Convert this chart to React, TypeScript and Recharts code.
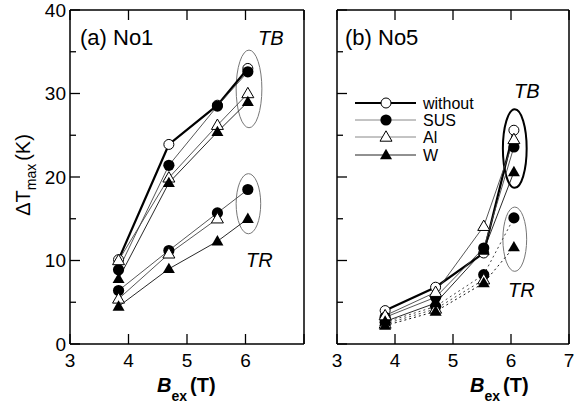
import React from 'react';
import { LineChart, Line, XAxis, YAxis, ReferenceArea } from 'recharts';

// measured field values (T)
const fieldA = [3.83, 4.69, 5.52, 6.04];
const fieldB = [3.83, 4.7, 5.53, 6.05];

// panel (a) No1, ΔTmax (K)
const aTbWithout = [10.1, 23.9, 28.6, 33.0];
const aTbSus = [8.9, 21.4, 28.5, 32.6];
const aTbAl = [10.0, 19.9, 26.2, 30.0];
const aTbW = [7.8, 19.3, 25.4, 29.0];
const aTrSus = [6.4, 11.2, 15.7, 18.5];
const aTrAl = [5.4, 10.8, 15.0, null];
const aTrW = [4.5, 9.0, 12.3, 15.0];

// panel (b) No5
const bTbWithout = [4.0, 6.8, 10.9, 25.6];
const bTbSus = [3.2, 5.6, 11.5, 23.6];
const bTbAl = [3.4, 6.2, 14.1, 24.5];
const bTbW = [2.7, 4.9, 11.2, 20.6];
const bTrSus = [2.6, 4.5, 8.3, 15.1];
const bTrAl = [2.4, 4.2, 7.7, null];
const bTrW = [2.2, 3.9, 7.3, 11.6];

const xTicks = [3, 4, 5, 6, 7];
const yTicks = [0, 5, 10, 15, 20, 25, 30, 35, 40];
const legendNames = ['without', 'SUS', 'Al', 'W'];

const FONT = 'Liberation Sans, Arial, Helvetica, sans-serif';

type Kind = 'oc' | 'fc' | 'ot' | 'ft';

const Marker = ({ cx, cy, kind }: { cx?: number; cy?: number; kind: Kind }) => {
  if (cx == null || cy == null || isNaN(cy)) return <g />;
  if (kind === 'oc') return <circle cx={cx} cy={cy} r={5} fill="#fff" stroke="#000" strokeWidth={1} />;
  if (kind === 'fc') return <circle cx={cx} cy={cy} r={5.6} fill="#000" />;
  const pts = `${cx},${cy - 6.2} ${cx + 6},${cy + 4.2} ${cx - 6},${cy + 4.2}`;
  if (kind === 'ot') return <polygon points={pts} fill="#fff" stroke="#000" strokeWidth={1} />;
  return <polygon points={pts} fill="#000" />;
};

const kinds: Kind[] = ['oc', 'fc', 'ot', 'ft'];
const strokes = ['#000', '#444', '#444', '#111'];
const widths = [2.2, 0.9, 0.9, 0.9];

const buildRows = (xs: number[], series: Record<string, (number | null)[]>) =>
  xs.map((b, i) => {
    const row: Record<string, number | null> = { b };
    Object.keys(series).forEach((k) => (row[k] = series[k][i]));
    return row;
  });

const rowsA = buildRows(fieldA, {
  tbWithout: aTbWithout, tbSus: aTbSus, tbAl: aTbAl, tbW: aTbW,
  trSus: aTrSus, trAl: aTrAl, trW: aTrW,
});
const rowsB = buildRows(fieldB, {
  tbWithout: bTbWithout, tbSus: bTbSus, tbAl: bTbAl, tbW: bTbW,
  trSus: bTrSus, trAl: bTrAl, trW: bTrW,
});

const tbKeys = ['tbWithout', 'tbSus', 'tbAl', 'tbW'];
const trKeys = [null, 'trSus', 'trAl', 'trW'];

// tick renderers: ticks point into the frame
const LeftTick = (p: any) => {
  const { x, y, payload, showLabel } = p;
  const major = payload.value % 10 === 0;
  return (
    <g>
      <line x1={x} x2={x + (major ? 10 : 6)} y1={y} y2={y} stroke="#000" strokeWidth={1.3} />
      {showLabel && major && (
        <text x={x - 4} y={y} dy="0.36em" textAnchor="end" fontSize={19} fontFamily={FONT} fill="#000">
          {payload.value}
        </text>
      )}
    </g>
  );
};
const RightTick = (p: any) => {
  const { x, y, payload } = p;
  const major = payload.value % 10 === 0;
  return <line x1={x} x2={x - (major ? 10 : 6)} y1={y} y2={y} stroke="#000" strokeWidth={1.3} />;
};
const BottomTick = (p: any) => {
  const { x, y, payload, maxLabel } = p;
  return (
    <g>
      <line x1={x} x2={x} y1={y} y2={y - 10} stroke="#000" strokeWidth={1.3} />
      {payload.value <= maxLabel && (
        <text x={x} y={y + 23} textAnchor="middle" fontSize={19} fontFamily={FONT} fill="#000">
          {payload.value}
        </text>
      )}
    </g>
  );
};
const TopTick = (p: any) => {
  const { x, y } = p;
  return <line x1={x} x2={x} y1={y} y2={y + 10} stroke="#000" strokeWidth={1.3} />;
};

const ellipse = (stroke: string, sw: number) => (p: any) => (
  <ellipse
    cx={p.x + p.width / 2}
    cy={p.y + p.height / 2}
    rx={Math.abs(p.width) / 2}
    ry={Math.abs(p.height) / 2}
    fill="none"
    stroke={stroke}
    strokeWidth={sw}
  />
);

const axisLine = { stroke: '#000', strokeWidth: 1.5 };

const Panel = ({
  rows, width, margin, leftWidth, showY, maxLabel, ellipses, trDashed,
}: any) => (
  <LineChart width={width} height={407} data={rows} margin={margin}>
    <XAxis xAxisId="t" orientation="top" dataKey="b" type="number" domain={[3, 7]} ticks={xTicks}
      height={5} tickSize={0} tickMargin={0} tickLine={false} axisLine={axisLine} tick={<TopTick />} />
    <XAxis dataKey="b" type="number" domain={[3, 7]} ticks={xTicks} height={30}
      tickSize={0} tickMargin={0} tickLine={false} axisLine={axisLine} tick={<BottomTick maxLabel={maxLabel} />} />
    <YAxis type="number" domain={[0, 40]} ticks={yTicks} width={leftWidth}
      tickSize={0} tickMargin={0} tickLine={false} axisLine={axisLine} tick={<LeftTick showLabel={showY} />} />
    <YAxis yAxisId="r" orientation="right" type="number" domain={[0, 40]} ticks={yTicks} width={5}
      tickSize={0} tickMargin={0} tickLine={false} axisLine={axisLine} tick={<RightTick />} />
    {ellipses.map((e: any, i: number) => (
      <ReferenceArea key={i} x1={e.x1} x2={e.x2} y1={e.y1} y2={e.y2} shape={ellipse(e.stroke, e.sw)} />
    ))}
    {trKeys.map((k, i) =>
      k ? (
        <Line key={k} dataKey={k} isAnimationActive={false} stroke={strokes[i]} strokeWidth={trDashed ? 1 : widths[i]}
          strokeDasharray={trDashed ? '2 3' : undefined}
          dot={(d: any) => <Marker key={`${k}-${d.index}`} cx={d.cx} cy={d.cy} kind={kinds[i]} />} />
      ) : null,
    )}
    {tbKeys.map((k, i) => (
      <Line key={k} dataKey={k} isAnimationActive={false} stroke={strokes[i]} strokeWidth={widths[i]}
        dot={(d: any) => <Marker key={`${k}-${d.index}`} cx={d.cx} cy={d.cy} kind={kinds[i]} />} />
    ))}
  </LineChart>
);

const ellipsesA = [
  { x1: 5.84, x2: 6.28, y1: 25.9, y2: 35.2, stroke: '#777', sw: 1 },
  { x1: 5.84, x2: 6.26, y1: 13.2, y2: 20.4, stroke: '#777', sw: 1 },
];
const ellipsesB = [
  { x1: 5.86, x2: 6.27, y1: 18.7, y2: 28.1, stroke: '#000', sw: 2 },
  { x1: 5.86, x2: 6.27, y1: 8.7, y2: 16.4, stroke: '#777', sw: 1 },
];

const Bex = ({ x }: { x: number }) => (
  <text x={x} y={392} fontFamily={FONT} fontWeight="bold" fontSize={20} fill="#000">
    <tspan fontStyle="italic">B</tspan>
    <tspan fontSize={14} dy={9}>ex</tspan>
    <tspan dy={-9} dx={3}>(T)</tspan>
  </text>
);

export default function App() {
  const legendY = [103, 120, 137, 155];
  return (
    <div style={{ position: 'absolute', left: 0, top: 0, width: 576, height: 407, background: '#fff' }}>
      <div style={{ position: 'absolute', left: 0, top: 0 }}>
        <Panel rows={rowsA} width={330} margin={{ top: 5, right: 21, bottom: 33, left: 30 }}
          leftWidth={40} showY maxLabel={6} ellipses={ellipsesA} trDashed={false} />
      </div>
      <div style={{ position: 'absolute', left: 300, top: 0 }}>
        <Panel rows={rowsB} width={276} margin={{ top: 5, right: 2, bottom: 33, left: 27 }}
          leftWidth={10} showY={false} maxLabel={7} ellipses={ellipsesB} trDashed />
      </div>
      <svg width={576} height={407} style={{ position: 'absolute', left: 0, top: 0, pointerEvents: 'none' }}>
        <g fontFamily={FONT} fill="#000">
          <text x={80} y={45} fontSize={22}>(a) No1</text>
          <text x={345} y={45} fontSize={22}>(b) No5</text>
          <text x={258} y={45} fontSize={20} fontStyle="italic">TB</text>
          <text x={246} y={267} fontSize={20} fontStyle="italic">TR</text>
          <text x={514} y={98} fontSize={20} fontStyle="italic">TB</text>
          <text x={508} y={297} fontSize={20} fontStyle="italic">TR</text>
          <text transform="translate(30,175) rotate(-90)" textAnchor="middle" fontSize={20}>
            ΔT<tspan fontSize={14} dy={6}>max</tspan>
            <tspan dy={-6} dx={3}>(K)</tspan>
          </text>
        </g>
        <Bex x={157} />
        <Bex x={470} />
        {legendNames.map((n, i) => (
          <g key={n}>
            <line x1={355} x2={416} y1={legendY[i]} y2={legendY[i]}
              stroke={i === 0 ? '#000' : i === 3 ? '#222' : '#888'} strokeWidth={i === 0 ? 2.2 : 1} />
            <Marker cx={386} cy={legendY[i]} kind={kinds[i]} />
            <text x={423} y={legendY[i]} dy="0.36em" fontSize={16} fontFamily={FONT} fill="#000">{n}</text>
          </g>
        ))}
      </svg>
    </div>
  );
}
